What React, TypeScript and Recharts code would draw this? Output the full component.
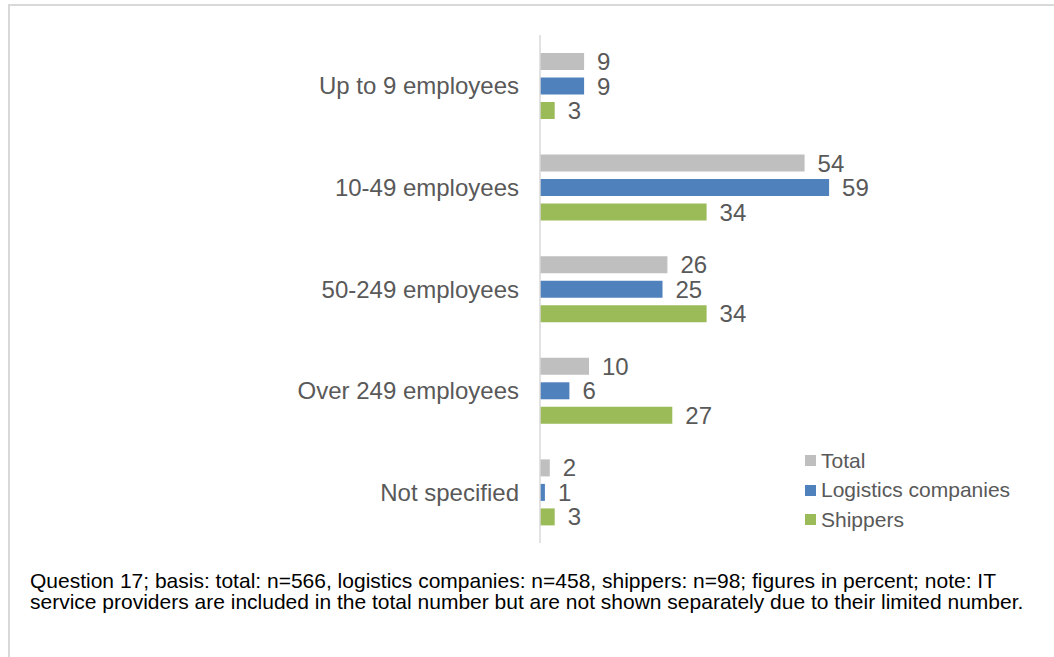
import React from "react";
import { BarChart, Bar, XAxis, YAxis, LabelList } from "recharts";

const categories = [
  "Up to 9 employees",
  "10-49 employees",
  "50-249 employees",
  "Over 249 employees",
  "Not specified",
];
const totalValues = [9, 54, 26, 10, 2];
const logisticsValues = [9, 59, 25, 6, 1];
const shippersValues = [3, 34, 34, 27, 3];

const seriesNames = ["Total", "Logistics companies", "Shippers"];
const seriesKeys = ["total", "logistics", "shippers"];
const seriesColors = ["#BFBFBF", "#4F81BD", "#9BBB59"];

const footnoteLines = [
  "Question 17; basis: total: n=566, logistics companies: n=458, shippers: n=98; figures in percent; note: IT",
  "service providers are included in the total number but are not shown separately due to their limited number.",
];

const data = categories.map((c, i) => ({
  category: c,
  total: totalValues[i],
  logistics: logisticsValues[i],
  shippers: shippersValues[i],
}));

const FONT = "'Liberation Sans', Arial, sans-serif";

export default function App() {
  return (
    <div
      style={{
        position: "absolute",
        left: 0,
        top: 0,
        width: 1054,
        height: 657,
        background: "#fff",
        overflow: "hidden",
      }}
    >
      <div
        style={{
          position: "absolute",
          left: 8,
          top: 4,
          width: 1200,
          height: 800,
          borderLeft: "2px solid #D9D9D9",
          borderTop: "2px solid #D9D9D9",
        }}
      />
      <div style={{ position: "absolute", left: 0, top: 0 }}>
        <BarChart
          width={1054}
          height={560}
          data={data}
          layout="vertical"
          margin={{ top: 35, right: 171, bottom: 17, left: 0 }}
          barSize={17}
          barGap={7.5}
        >
          <XAxis type="number" domain={[0, 70]} hide />
          <YAxis
            type="category"
            dataKey="category"
            width={540}
            axisLine={{ stroke: "#D9D9D9", strokeWidth: 1.5 }}
            tickLine={false}
            tickSize={0}
            tickMargin={21}
            tick={{ fontSize: 24, fill: "#595959", fontFamily: FONT }}
          />
          {seriesKeys.map((k, i) => (
            <Bar
              key={k}
              dataKey={k}
              name={seriesNames[i]}
              fill={seriesColors[i]}
              isAnimationActive={false}
            >
              <LabelList
                dataKey={k}
                position="right"
                offset={13}
                style={{ fontSize: 24, fill: "#595959", fontFamily: FONT }}
              />
            </Bar>
          ))}
        </BarChart>
      </div>
      <div
        style={{
          position: "absolute",
          left: 805,
          top: 446,
          fontFamily: FONT,
        }}
      >
        {seriesNames.map((n, i) => (
          <div
            key={n}
            style={{
              display: "flex",
              alignItems: "center",
              height: 29.5,
              fontSize: 21,
              color: "#595959",
            }}
          >
            <span
              style={{
                display: "inline-block",
                width: 11,
                height: 11,
                background: seriesColors[i],
                marginRight: 5,
              }}
            />
            {n}
          </div>
        ))}
      </div>
      <div
        style={{
          position: "absolute",
          left: 30,
          top: 570,
          fontFamily: FONT,
          fontSize: 21,
          lineHeight: "21px",
          color: "#000",
          whiteSpace: "nowrap",
        }}
      >
        {footnoteLines.map((l) => (
          <div key={l}>{l}</div>
        ))}
      </div>
    </div>
  );
}
